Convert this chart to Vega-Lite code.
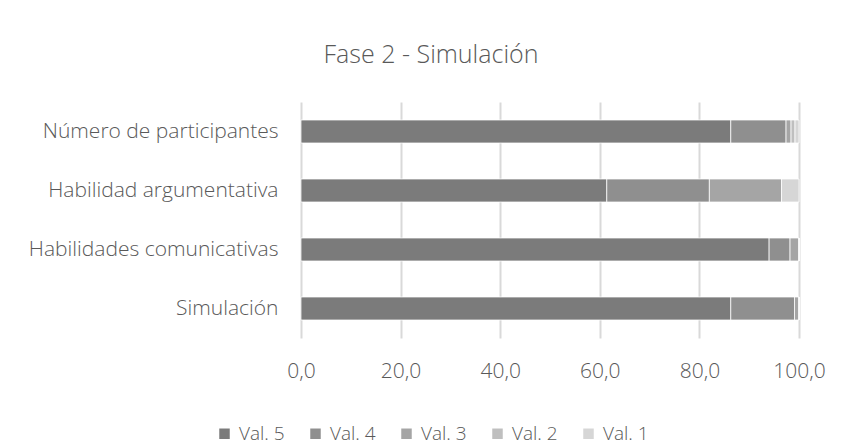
{
  "$schema": "https://vega.github.io/schema/vega-lite/v6.json",
  "width": 498,
  "height": 236,
  "autosize": {"type": "none"},
  "padding": {"left": 301, "top": 102, "right": 43, "bottom": 110},
  "background": "white",
  "title": {
    "text": "Fase 2 - Simulación",
    "fontSize": 25,
    "font": "Open Sans",
    "fontWeight": 300,
    "color": "#595959",
    "anchor": "middle",
    "dx": -119,
    "baseline": "alphabetic",
    "offset": 14
  },
  "data": {
    "values": [
      {"categoria": "Número de participantes", "serie": "Val. 5", "valor": 86.3},
      {"categoria": "Número de participantes", "serie": "Val. 4", "valor": 11.1},
      {"categoria": "Número de participantes", "serie": "Val. 3", "valor": 1.0},
      {"categoria": "Número de participantes", "serie": "Val. 2", "valor": 0.8},
      {"categoria": "Número de participantes", "serie": "Val. 1", "valor": 0.8},
      {"categoria": "Habilidad argumentativa", "serie": "Val. 5", "valor": 61.4},
      {"categoria": "Habilidad argumentativa", "serie": "Val. 4", "valor": 20.6},
      {"categoria": "Habilidad argumentativa", "serie": "Val. 3", "valor": 14.5},
      {"categoria": "Habilidad argumentativa", "serie": "Val. 2", "valor": 0.0},
      {"categoria": "Habilidad argumentativa", "serie": "Val. 1", "valor": 3.5},
      {"categoria": "Habilidades comunicativas", "serie": "Val. 5", "valor": 94.0},
      {"categoria": "Habilidades comunicativas", "serie": "Val. 4", "valor": 4.2},
      {"categoria": "Habilidades comunicativas", "serie": "Val. 3", "valor": 1.8},
      {"categoria": "Habilidades comunicativas", "serie": "Val. 2", "valor": 0.0},
      {"categoria": "Habilidades comunicativas", "serie": "Val. 1", "valor": 0.0},
      {"categoria": "Simulación", "serie": "Val. 5", "valor": 86.3},
      {"categoria": "Simulación", "serie": "Val. 4", "valor": 12.8},
      {"categoria": "Simulación", "serie": "Val. 3", "valor": 0.9},
      {"categoria": "Simulación", "serie": "Val. 2", "valor": 0.0},
      {"categoria": "Simulación", "serie": "Val. 1", "valor": 0.0}
    ]
  },
  "mark": {"type": "bar", "stroke": "white", "strokeWidth": 0.75},
  "encoding": {
    "y": {
      "field": "categoria",
      "type": "nominal",
      "sort": ["Número de participantes", "Habilidad argumentativa", "Habilidades comunicativas", "Simulación"],
      "scale": {"paddingInner": 0.61, "paddingOuter": 0.305},
      "axis": {
        "title": null,
        "ticks": false,
        "domain": false,
        "labelPadding": 23,
        "labelFontSize": 21,
        "labelFont": "Open Sans",
        "labelFontWeight": 300,
        "labelColor": "#595959",
        "labelLimit": 400
      }
    },
    "x": {
      "field": "valor",
      "type": "quantitative",
      "stack": "zero",
      "scale": {"domain": [0, 100], "nice": false},
      "axis": {
        "title": null,
        "values": [0, 20, 40, 60, 80, 100],
        "labelExpr": "replace(format(datum.value, '.1f'), '.', ',')",
        "ticks": false,
        "tickSize": 0,
        "domain": false,
        "grid": true,
        "gridColor": "#d9d9d9",
        "gridWidth": 2,
        "labelPadding": 22,
        "labelFontSize": 21,
        "labelFont": "Open Sans",
        "labelFontWeight": 300,
        "labelColor": "#595959",
        "labelFlush": false
      }
    },
    "color": {
      "field": "serie",
      "type": "nominal",
      "sort": ["Val. 5", "Val. 4", "Val. 3", "Val. 2", "Val. 1"],
      "scale": {
        "domain": ["Val. 5", "Val. 4", "Val. 3", "Val. 2", "Val. 1"],
        "range": ["#7b7b7b", "#8f8f8f", "#a5a5a5", "#bfbfbf", "#d6d6d6"]
      },
      "legend": {
        "title": null,
        "orient": "none",
        "direction": "horizontal",
        "legendX": -86,
        "legendY": 322,
        "symbolType": "square",
        "symbolSize": 110,
        "symbolStrokeWidth": 0,
        "labelFontSize": 19,
        "labelFont": "Open Sans",
        "labelFontWeight": 300,
        "labelColor": "#595959",
        "columnPadding": 21,
        "labelOffset": 5
      }
    },
    "order": {"field": "serie", "sort": "descending"}
  },
  "config": {"view": {"stroke": null}}
}
